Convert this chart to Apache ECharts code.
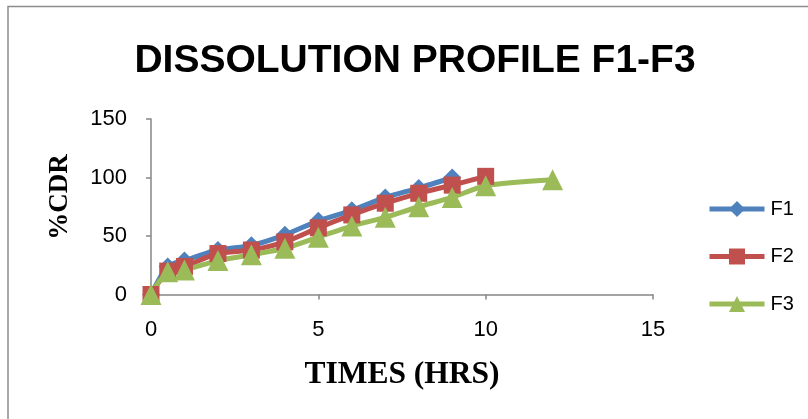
<!DOCTYPE html>
<html>
<head>
<meta charset="utf-8">
<script src="https://cdn.jsdelivr.net/npm/echarts@6/dist/echarts.min.js"></script>
<style>
  html, body { margin: 0; padding: 0; background: #fff; }
  #chart { width: 808px; height: 419px; }
</style>
</head>
<body>
<div id="chart"></div>
<script>
// Cumulative drug release (%) against time (hours) for three formulations
const timesF1 = [0, 0.5, 1, 2, 3, 4, 5, 6, 7, 8, 9];
const releaseF1 = [0, 24, 29, 38, 42, 51, 63, 72, 83, 91, 100];

const timesF2 = [0, 0.5, 1, 2, 3, 4, 5, 6, 7, 8, 9, 10];
const releaseF2 = [0, 20, 24, 35, 38, 45, 57, 68, 78, 86.5, 93.5, 101];

const timesF3 = [0, 0.5, 1, 2, 3, 4, 5, 6, 7, 8, 9, 10, 12];
const releaseF3 = [0, 19.5, 21, 29, 34, 39.5, 49, 58.5, 66, 75, 83, 93, 98];

const seriesNames = ['F1', 'F2', 'F3'];
const xTicks = [0, 5, 10, 15];
const yTicks = [0, 50, 100, 150];

const pairs = (xs, ys) => xs.map((x, i) => [x, ys[i]]);

const axisGrey = '#868686';
const chart = echarts.init(document.getElementById('chart'));

function lineSeries(name, data, color, symbol, size) {
  return {
    name: name,
    type: 'line',
    data: data,
    smooth: 0.25,
    symbol: symbol,
    symbolSize: size,
    lineStyle: { color: color, width: 5 },
    itemStyle: { color: color, borderWidth: 0 },
    emphasis: { disabled: true }
  };
}

chart.setOption({
  animation: false,
  backgroundColor: '#ffffff',
  title: {
    text: 'DISSOLUTION PROFILE F1-F3',
    left: 410,
    textAlign: 'center',
    top: 37,
    textStyle: {
      fontFamily: 'Liberation Sans',
      fontWeight: 'bold',
      fontSize: 39,
      color: '#000'
    }
  },
  legend: {
    orient: 'vertical',
    left: 702,
    top: 194,
    itemWidth: 55,
    itemHeight: 20,
    itemGap: 27.5,
    data: seriesNames,
    lineStyle: { width: 5 },
    textStyle: { fontFamily: 'Liberation Sans', fontSize: 20, lineHeight: 20, color: '#000', padding: [0, 0, 0, 1] }
  },
  grid: { left: 151, top: 119, width: 502, height: 175.5 },
  xAxis: {
    type: 'value',
    min: xTicks[0],
    max: xTicks[xTicks.length - 1],
    interval: xTicks[1] - xTicks[0],
    axisLine: { show: true, lineStyle: { color: axisGrey, width: 1.5 } },
    axisTick: { show: true, length: 5, lineStyle: { color: axisGrey, width: 1.5 } },
    splitLine: { show: false },
    axisLabel: { fontFamily: 'Liberation Sans', fontSize: 22, color: '#000', margin: 24 }
  },
  yAxis: {
    type: 'value',
    min: yTicks[0],
    max: yTicks[yTicks.length - 1],
    interval: yTicks[1] - yTicks[0],
    axisLine: { show: true, lineStyle: { color: axisGrey, width: 1.5 } },
    axisTick: { show: true, length: 5, lineStyle: { color: axisGrey, width: 1.5 } },
    splitLine: { show: false },
    axisLabel: { fontFamily: 'Liberation Sans', fontSize: 22, color: '#000', margin: 24 }
  },
  graphic: [
    {
      type: 'rect',
      silent: true,
      shape: { x: 8, y: 6.5, width: 900, height: 600 },
      style: { fill: 'none', stroke: '#8c8c8c', lineWidth: 1.5 }
    },
    {
      type: 'text',
      silent: true,
      x: 60, y: 197,
      rotation: Math.PI / 2,
      style: {
        text: '%CDR',
        font: 'bold 27px "Liberation Serif"',
        fill: '#000',
        align: 'center',
        verticalAlign: 'middle'
      }
    },
    {
      type: 'text',
      silent: true,
      x: 402, y: 375,
      style: {
        text: 'TIMES (HRS)',
        font: 'bold 31.5px "Liberation Serif"',
        fill: '#000',
        align: 'center',
        verticalAlign: 'middle'
      }
    }
  ],
  series: [
    lineSeries('F1', pairs(timesF1, releaseF1), '#4F81BD', 'diamond', 18),
    lineSeries('F2', pairs(timesF2, releaseF2), '#C0504D', 'rect', 17),
    lineSeries('F3', pairs(timesF3, releaseF3), '#9BBB59', 'triangle', 21)
  ]
});
</script>
</body>
</html>
